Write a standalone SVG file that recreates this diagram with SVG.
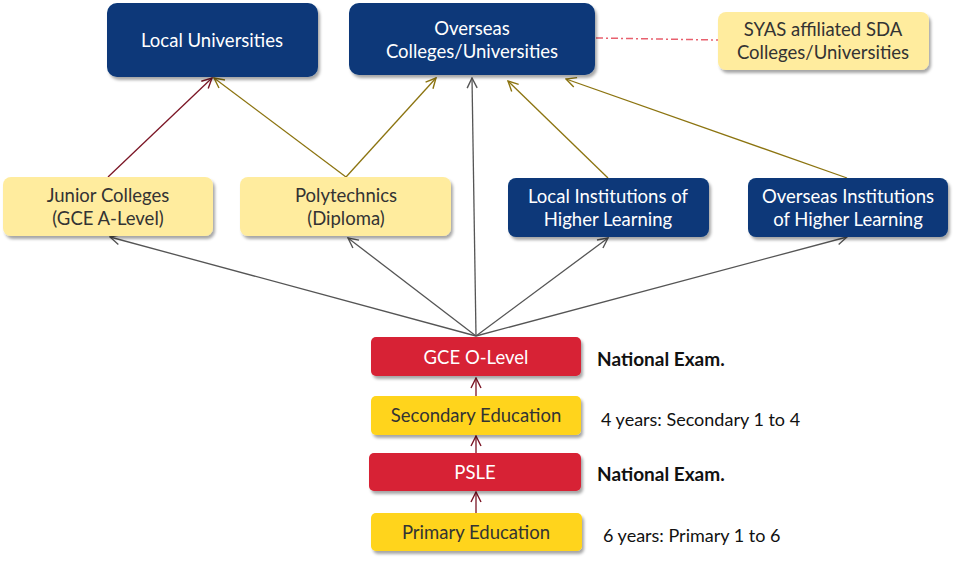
<svg xmlns="http://www.w3.org/2000/svg" width="958" height="564" viewBox="0 0 958 564">
<defs>
<filter id="sh" x="-10%" y="-20%" width="130%" height="150%">
<feDropShadow dx="2" dy="3" stdDeviation="1.5" flood-color="#000" flood-opacity="0.35"/>
</filter>
<marker id="mg" viewBox="0 0 12 12" refX="11" refY="6" markerWidth="12" markerHeight="12" markerUnits="userSpaceOnUse" orient="auto">
<path d="M1,1 L11,6 L1,11" fill="none" stroke="#555" stroke-width="1.4"/>
</marker>
<marker id="mr" viewBox="0 0 12 12" refX="11" refY="6" markerWidth="12" markerHeight="12" markerUnits="userSpaceOnUse" orient="auto">
<path d="M1,1 L11,6 L1,11" fill="none" stroke="#7B1525" stroke-width="1.4"/>
</marker>
<marker id="mo" viewBox="0 0 12 12" refX="11" refY="6" markerWidth="12" markerHeight="12" markerUnits="userSpaceOnUse" orient="auto">
<path d="M1,1 L11,6 L1,11" fill="none" stroke="#8C7410" stroke-width="1.4"/>
</marker>
</defs>
<style>
.blue{fill:#083779;filter:url(#sh)}
.lyel{fill:#FFEC9E;filter:url(#sh)}
.yel{fill:#FFD41A;filter:url(#sh)}
.red{fill:#D72034;filter:url(#sh)}
text{font-family:Lato,"Open Sans",sans-serif;font-size:18.5px;text-anchor:middle;dominant-baseline:central}
.w{fill:#fff}
.d{fill:#333}
.side{text-anchor:start;fill:#111;font-size:18px}
.b{font-weight:bold;font-size:19px}
.cg{stroke:#555;stroke-width:1.3;fill:none;marker-end:url(#mg)}
.cr{stroke:#7B1525;stroke-width:1.3;fill:none;marker-end:url(#mr)}
.co{stroke:#8C7410;stroke-width:1.3;fill:none;marker-end:url(#mo)}
</style>
<g id="connectors">
<line class="cg" x1="476" y1="336" x2="110" y2="237"/>
<line class="cg" x1="476" y1="336" x2="348" y2="238"/>
<line class="cg" x1="476" y1="336" x2="472" y2="78"/>
<line class="cg" x1="476" y1="336" x2="608" y2="238"/>
<line class="cg" x1="476" y1="336" x2="847" y2="237"/>
<line class="cr" x1="108" y1="177" x2="212" y2="78"/>
<line class="co" x1="346" y1="177" x2="214" y2="78"/>
<line class="co" x1="346" y1="177" x2="436" y2="78"/>
<line class="co" x1="608" y1="178" x2="508" y2="81"/>
<line class="co" x1="847" y1="178" x2="566" y2="79"/>
<line class="cr" x1="476" y1="396" x2="476" y2="378"/>
<line class="cr" x1="476" y1="453" x2="476" y2="436"/>
<line class="cr" x1="476" y1="513" x2="476" y2="492"/>
<line x1="596" y1="38" x2="718" y2="40" stroke="#E8606E" stroke-width="1.5" stroke-dasharray="7,3,2,3"/>
</g>
<g id="local-universities">
<rect class="blue" x="107" y="3" width="211" height="74" rx="10"/>
<text class="w" x="212" y="40">Local Universities</text>
</g>
<g id="overseas-universities">
<rect class="blue" x="349" y="3" width="246" height="72" rx="10"/>
<text class="w" x="472" y="28">Overseas</text>
<text class="w" x="472" y="51">Colleges/Universities</text>
</g>
<g id="syas">
<rect class="lyel" x="718" y="12" width="211" height="58" rx="8"/>
<text class="d" x="823" y="29">SYAS affiliated SDA</text>
<text class="d" x="823" y="52">Colleges/Universities</text>
</g>
<g id="junior-colleges">
<rect class="lyel" x="3" y="177" width="210" height="59" rx="8"/>
<text class="d" x="108" y="195">Junior Colleges</text>
<text class="d" x="108" y="218">(GCE A-Level)</text>
</g>
<g id="polytechnics">
<rect class="lyel" x="240" y="177" width="211" height="59" rx="8"/>
<text class="d" x="346" y="195">Polytechnics</text>
<text class="d" x="346" y="218">(Diploma)</text>
</g>
<g id="local-institutions">
<rect class="blue" x="508" y="178" width="201" height="59" rx="8"/>
<text class="w" x="608" y="196">Local Institutions of</text>
<text class="w" x="608" y="219">Higher Learning</text>
</g>
<g id="overseas-institutions">
<rect class="blue" x="748" y="178" width="200" height="59" rx="8"/>
<text class="w" x="848" y="196">Overseas Institutions</text>
<text class="w" x="848" y="219">of Higher Learning</text>
</g>
<g id="gce-o-level">
<rect class="red" x="371" y="337" width="210" height="39" rx="5"/>
<text class="w" x="476" y="357">GCE O-Level</text>
</g>
<g id="secondary">
<rect class="yel" x="371" y="396" width="210" height="39" rx="5"/>
<text class="d" x="476" y="415">Secondary Education</text>
</g>
<g id="psle">
<rect class="red" x="369" y="453" width="212" height="38" rx="5"/>
<text class="w" x="475" y="472">PSLE</text>
</g>
<g id="primary">
<rect class="yel" x="371" y="513" width="211" height="38" rx="5"/>
<text class="d" x="476" y="532">Primary Education</text>
</g>
<g id="labels">
<text class="side b" x="597" y="358">National Exam.</text>
<text class="side" x="601" y="419">4 years: Secondary 1 to 4</text>
<text class="side b" x="597" y="473">National Exam.</text>
<text class="side" x="603" y="535">6 years: Primary 1 to 6</text>
</g>
</svg>
